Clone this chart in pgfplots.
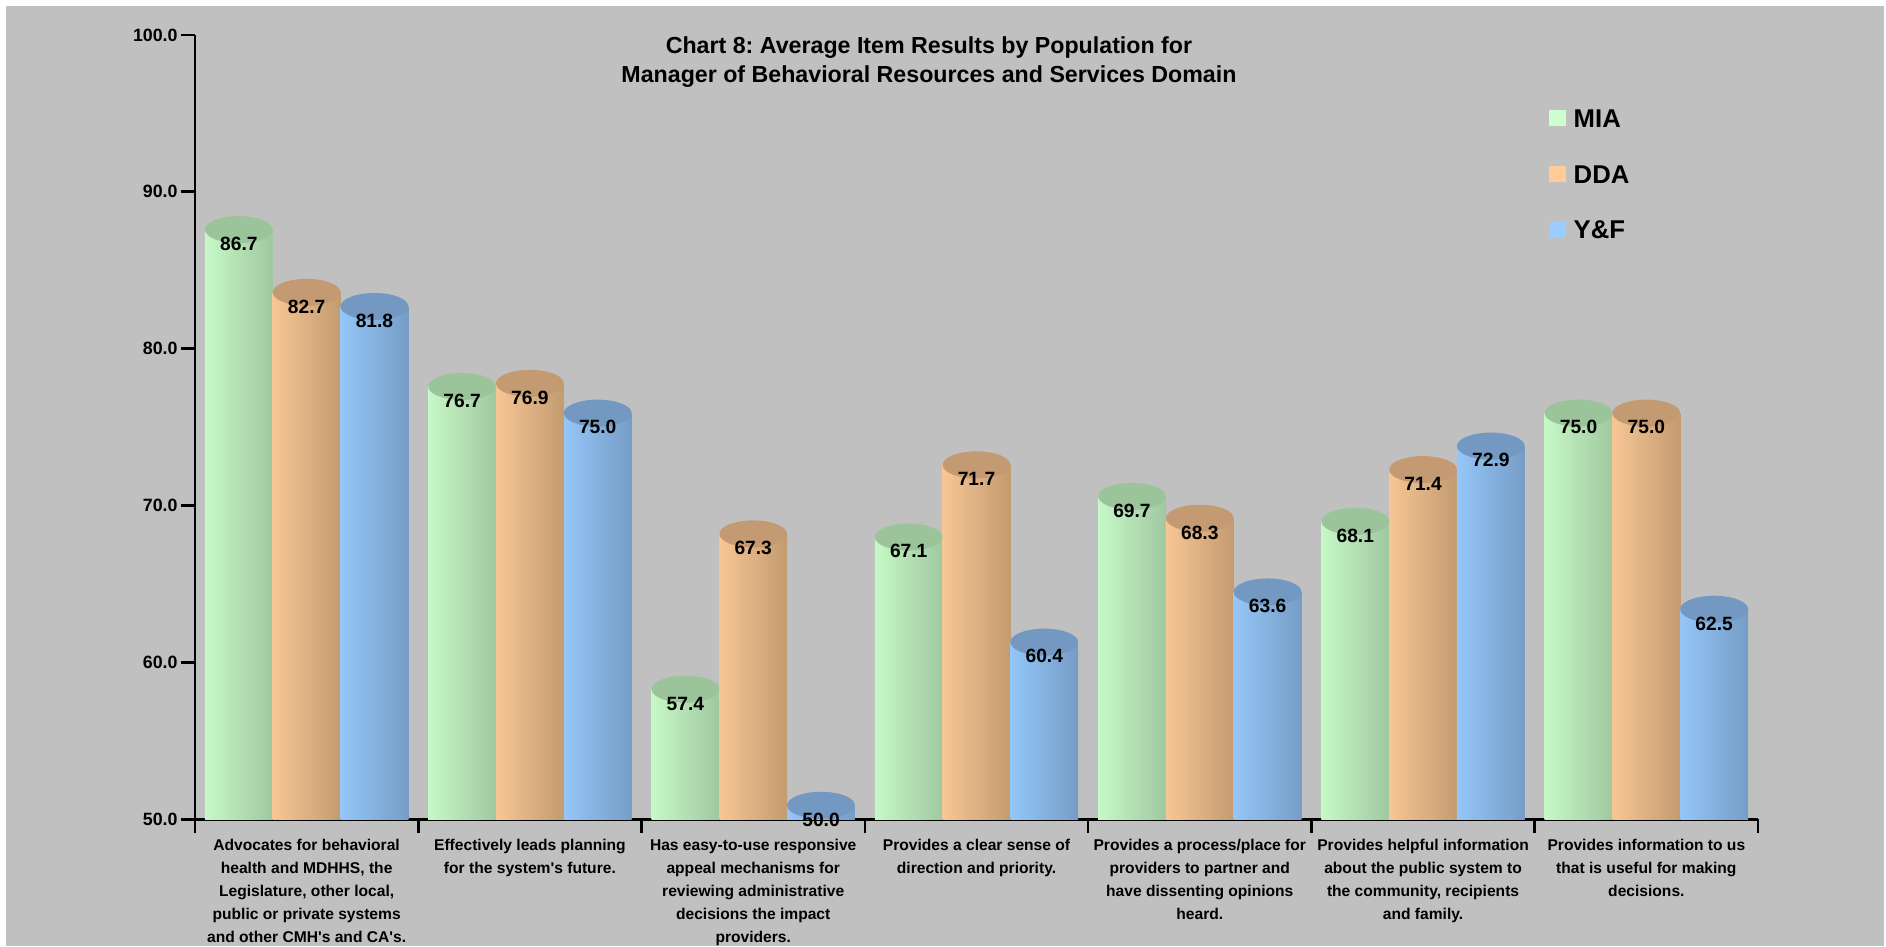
\documentclass[border=0pt]{standalone}
\usepackage{pgfplots}
\pgfplotsset{compat=1.18}
\usepackage{fontspec}
\setmainfont{Liberation Sans}
\usetikzlibrary{shapes.geometric}
\frenchspacing

\definecolor{bgGray}{HTML}{C0C0C0}
% cylinder side colours: left rim, highlight, right rim
\definecolor{gA}{HTML}{BDEBBD}\definecolor{gB}{HTML}{CCFFCC}\definecolor{gC}{HTML}{8DB08D}
\definecolor{oA}{HTML}{EDBE8F}\definecolor{oB}{HTML}{FFCC99}\definecolor{oC}{HTML}{A8865F}
\definecolor{bA}{HTML}{8FC0F0}\definecolor{bB}{HTML}{99CCFF}\definecolor{bC}{HTML}{6688AD}
% cylinder top colours
\definecolor{gTop}{HTML}{9BC49B}
\definecolor{oTop}{HTML}{C49A72}
\definecolor{bTop}{HTML}{7399C2}
% legend swatches
\definecolor{gKey}{HTML}{CCFFCC}
\definecolor{oKey}{HTML}{FFCC99}
\definecolor{bKey}{HTML}{99CCFF}

\pgfdeclarehorizontalshading{cylG}{100bp}{color(0bp)=(gA); color(18bp)=(gB); color(100bp)=(gC)}
\pgfdeclarehorizontalshading{cylO}{100bp}{color(0bp)=(oA); color(18bp)=(oB); color(100bp)=(oC)}
\pgfdeclarehorizontalshading{cylB}{100bp}{color(0bp)=(bA); color(18bp)=(bB); color(100bp)=(bC)}

% one cylinder: side shading, top colour, bar shift
\pgfplotsset{
  cyl/.style n args={3}{
    ybar, bar width=33.9pt, bar shift=#3,
    draw=none, shading=#1,
    nodes near coords={\smash{\raisebox{-10.4pt}{\pgfmathprintnumber[fixed,fixed zerofill,precision=1,assume math mode=true]{\pgfplotspointmeta}}}},
    every node near coord/.append style={
      ellipse, fill=#2, minimum width=33.9pt, minimum height=13.5pt,
      inner sep=0pt, outer sep=0pt, anchor=center, xshift=#3, text=black,
      font=\bfseries\fontsize{9.6}{9.6}\selectfont},
  },
  mia/.style={cyl={cylG}{gTop}{-33.9pt}},
  dda/.style={cyl={cylO}{oTop}{0pt}},
  yf/.style={cyl={cylB}{bTop}{33.9pt}},
}

\begin{document}
\begin{tikzpicture}
\fill[white] (0,0) rectangle (943pt,473pt);
\fill[bgGray] (3pt,0) rectangle (942pt,470pt);

\begin{axis}[
  at={(97.5pt,63.35pt)}, anchor=south west,
  scale only axis, width=781.5pt, height=399.15pt,
  % the cylinders stand 7pt deep; the value scale is offset by that depth
  xmin=-0.5, xmax=6.5, ymin=49.1075, ymax=100,
  axis x line*=bottom, axis y line*=left,
  axis line style={line width=1.35pt, black, -},
  y axis line style={shorten >=7pt},
  tick style={line width=1.35pt, black},
  tick align=outside, major tick length=7pt,
  ytick={50,60,...,100},
  ytick style={yshift=-7pt},
  /pgf/number format/assume math mode=true,
  yticklabel={\pgfmathprintnumber[fixed,fixed zerofill,precision=1]{\tick}},
  yticklabel style={font=\bfseries\fontsize{8.9}{8.9}\selectfont, inner sep=0pt, anchor=east, yshift=-7pt, xshift=-1.5pt},
  xtick={-0.5,0.5,...,6.5}, xticklabels={},
  extra x ticks={0,1,2,3,4,5,6},
  extra x tick labels={
    {Advocates for behavioral\\health and MDHHS, the\\Legislature, other local,\\public or private systems\\and other CMH\textquotesingle s and CA\textquotesingle s.},
    {Effectively leads planning\\for the system\textquotesingle s future.},
    {Has easy-to-use responsive\\appeal mechanisms for\\reviewing administrative\\decisions the impact\\providers.},
    {Provides a clear sense of\\direction and priority.},
    {Provides a process/place for\\providers to partner and\\have dissenting opinions\\heard.},
    {Provides helpful information\\about the public system to\\the community, recipients\\and family.},
    {Provides information to us\\that is useful for making\\decisions.}},
  extra x tick style={major tick length=0pt,
    xticklabel style={align=center, anchor=north, inner sep=0pt, yshift=-10pt,
      font=\bfseries\fontsize{7.8}{11.5}\selectfont}},
]
% MIA
\addplot[mia] coordinates {(0,86.7)};
\addplot[mia] coordinates {(1,76.7)};
\addplot[mia] coordinates {(2,57.4)};
\addplot[mia] coordinates {(3,67.1)};
\addplot[mia] coordinates {(4,69.7)};
\addplot[mia] coordinates {(5,68.1)};
\addplot[mia] coordinates {(6,75.0)};
% DDA
\addplot[dda] coordinates {(0,82.7)};
\addplot[dda] coordinates {(1,76.9)};
\addplot[dda] coordinates {(2,67.3)};
\addplot[dda] coordinates {(3,71.7)};
\addplot[dda] coordinates {(4,68.3)};
\addplot[dda] coordinates {(5,71.4)};
\addplot[dda] coordinates {(6,75.0)};
% Y&F
\addplot[yf] coordinates {(0,81.8)};
\addplot[yf] coordinates {(1,75.0)};
\addplot[yf] coordinates {(2,50.0)};
\addplot[yf] coordinates {(3,60.4)};
\addplot[yf] coordinates {(4,63.6)};
\addplot[yf] coordinates {(5,72.9)};
\addplot[yf] coordinates {(6,62.5)};
\end{axis}

% title
\node[align=center, font=\bfseries\fontsize{11.6}{14.5}\selectfont]
  at (464.5pt,441.75pt) {Chart 8: Average Item Results by Population for\\Manager of Behavioral Resources and Services Domain};

% legend
\fill[gKey] (774.65pt,409.75pt) rectangle (782.85pt,417.95pt);
\node[anchor=west, inner sep=0pt, font=\bfseries\fontsize{12.85}{12.85}\selectfont] at (786.65pt,413.85pt) {MIA};
\fill[oKey] (774.65pt,381.75pt) rectangle (782.85pt,389.95pt);
\node[anchor=west, inner sep=0pt, font=\bfseries\fontsize{12.85}{12.85}\selectfont] at (786.65pt,385.85pt) {DDA};
\fill[bKey] (774.65pt,353.8pt) rectangle (782.85pt,362pt);
\node[anchor=west, inner sep=0pt, font=\bfseries\fontsize{12.85}{12.85}\selectfont] at (786.65pt,357.9pt) {Y\&F};
\end{tikzpicture}
\end{document}
